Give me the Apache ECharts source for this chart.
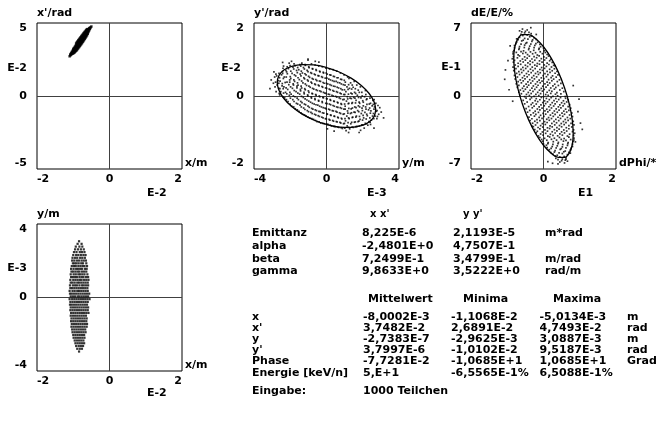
<!DOCTYPE html>
<html><head><meta charset="utf-8">
<script src="https://cdn.jsdelivr.net/npm/echarts@6/dist/echarts.min.js"></script>
<style>html,body{margin:0;padding:0;background:#fff}#c{width:666px;height:421px}</style>
</head><body><div id="c"></div>
<script>
// ---------- data ----------
// panel 1: x (E-2 m) vs x' (E-2 rad): columns [x, [x' values]]
const xxCols = [
[-1.10,[2.72]],[-1.08,[2.78,2.85]],[-1.06,[2.83,2.92]],[-1.04,[2.88,2.95,3.02]],
[-1.02,[2.90,3.00,3.10]],[-1.00,[2.92,3.02,3.12,3.22]],[-0.98,[2.96,3.06,3.16,3.28]],
[-0.96,[3.00,3.12,3.24,3.36]],[-0.94,[3.05,3.18,3.30,3.43]],[-0.92,[3.10,3.24,3.36,3.50,3.60]],
[-0.90,[3.15,3.30,3.42,3.56,3.68]],[-0.88,[3.22,3.36,3.48,3.62,3.75]],[-0.86,[3.28,3.42,3.55,3.68,3.82]],
[-0.84,[3.35,3.48,3.61,3.74,3.88]],[-0.82,[3.42,3.55,3.68,3.81,3.95]],[-0.80,[3.48,3.62,3.75,3.88,4.02]],
[-0.78,[3.55,3.68,3.82,3.95,4.08]],[-0.76,[3.62,3.76,3.89,4.02,4.15]],[-0.74,[3.70,3.83,3.95,4.08,4.21]],
[-0.72,[3.76,3.90,4.02,4.15,4.28]],[-0.70,[3.84,3.97,4.09,4.22,4.34]],[-0.68,[3.92,4.05,4.16,4.28,4.40]],
[-0.66,[4.00,4.12,4.23,4.35,4.46]],[-0.64,[4.08,4.20,4.30,4.42,4.52]],[-0.62,[4.16,4.27,4.37,4.48,4.58]],
[-0.60,[4.26,4.36,4.45,4.55]],[-0.58,[4.38,4.48,4.58]],[-0.56,[4.50,4.58,4.64]],
[-0.54,[4.60,4.68]],[-0.52,[4.70]],[-0.50,[4.76]]
];

// panel 2: y (E-3 m) vs y' (E-2 rad)
const yyPoints = [
[-2.93,0.35],[-2.86,0.52],[-3.05,0.44],
[-2.72,0.30],[-2.66,0.42],[-2.75,0.55],[-2.64,0.21],[-2.78,0.12],
[-2.52,0.12],[-2.45,0.28],[-2.56,0.41],[-2.48,0.58],[-2.43,0.67],[-2.58,0.03],
[-2.31,-0.05],[-2.26,0.10],[-2.35,0.25],[-2.28,0.37],[-2.33,0.52],[-2.24,0.70],[-2.37,0.82],
[-2.12,-0.15],[-2.05,0.02],[-2.14,0.18],[-2.08,0.31],[-2.03,0.44],[-2.16,0.61],[-2.10,0.75],[-2.06,0.90],
[-1.92,-0.28],[-1.86,-0.10],[-1.95,0.05],[-1.88,0.21],[-1.84,0.33],[-1.97,0.48],[-1.90,0.62],[-1.85,0.79],[-1.93,0.95],
[-1.72,-0.35],[-1.66,-0.20],[-1.74,-0.02],[-1.68,0.12],[-1.63,0.27],[-1.76,0.40],[-1.70,0.55],[-1.65,0.70],[-1.73,0.83],
[-1.52,-0.42],[-1.46,-0.25],[-1.55,-0.10],[-1.48,0.05],[-1.44,0.18],[-1.57,0.30],[-1.50,0.45],[-1.45,0.60],[-1.53,0.72],[-1.47,0.86],
[-1.32,-0.50],[-1.26,-0.33],[-1.35,-0.18],[-1.28,-0.04],[-1.24,0.10],[-1.37,0.22],[-1.30,0.36],[-1.25,0.50],[-1.33,0.63],[-1.27,0.78],[-1.36,0.90],
[-1.12,-0.55],[-1.06,-0.40],[-1.15,-0.24],[-1.08,-0.11],[-1.04,0.03],[-1.17,0.17],[-1.10,0.29],[-1.05,0.44],[-1.13,0.58],[-1.07,0.70],[-1.16,0.84],[-1.02,0.98],
[-0.92,-0.60],[-0.86,-0.45],[-0.95,-0.31],[-0.88,-0.17],[-0.84,-0.03],[-0.97,0.10],[-0.90,0.24],[-0.85,0.38],[-0.93,0.51],[-0.87,0.64],[-0.96,0.78],[-0.83,0.88],
[-0.72,-0.64],[-0.66,-0.50],[-0.75,-0.36],[-0.68,-0.22],[-0.64,-0.07],[-0.77,0.06],[-0.70,0.19],[-0.65,0.33],[-0.73,0.46],[-0.67,0.60],[-0.76,0.74],[-0.63,0.85],
[-0.52,-0.70],[-0.46,-0.54],[-0.55,-0.40],[-0.48,-0.25],[-0.44,-0.12],[-0.57,0.02],[-0.50,0.15],[-0.45,0.30],[-0.53,0.42],[-0.47,0.56],[-0.56,0.70],[-0.43,0.82],
[-0.32,-0.74],[-0.26,-0.58],[-0.35,-0.43],[-0.28,-0.30],[-0.24,-0.15],[-0.37,-0.02],[-0.30,0.12],[-0.25,0.26],[-0.33,0.40],[-0.27,0.53],[-0.36,0.66],[-0.23,0.80],
[-0.12,-0.76],[-0.06,-0.62],[-0.15,-0.47],[-0.08,-0.33],[-0.04,-0.20],[-0.17,-0.05],[-0.10,0.08],[-0.05,0.22],[-0.13,0.35],[-0.07,0.49],[-0.16,0.63],[-0.03,0.76],
[0.08,-0.78],[0.14,-0.64],[0.05,-0.50],[0.12,-0.36],[0.16,-0.22],[0.03,-0.08],[0.10,0.05],[0.15,0.19],[0.07,0.33],[0.13,0.46],[0.04,0.60],[0.17,0.74],
[0.28,-0.82],[0.34,-0.67],[0.25,-0.53],[0.32,-0.40],[0.36,-0.26],[0.23,-0.12],[0.30,0.02],[0.35,0.15],[0.27,0.29],[0.33,0.42],[0.24,0.57],[0.37,0.72],
[0.48,-0.84],[0.54,-0.70],[0.45,-0.56],[0.52,-0.42],[0.56,-0.30],[0.43,-0.15],[0.50,-0.01],[0.55,0.12],[0.47,0.26],[0.53,0.40],[0.44,0.53],[0.57,0.68],
[0.68,-0.86],[0.74,-0.72],[0.65,-0.60],[0.72,-0.46],[0.76,-0.32],[0.63,-0.19],[0.70,-0.05],[0.75,0.08],[0.67,0.22],[0.73,0.36],[0.64,0.50],[0.77,0.63],
[0.88,-0.89],[0.94,-0.76],[0.85,-0.63],[0.92,-0.50],[0.96,-0.36],[0.83,-0.23],[0.90,-0.10],[0.95,0.04],[0.87,0.17],[0.93,0.31],[0.84,0.45],[0.97,0.58],
[1.08,-0.95],[1.14,-0.82],[1.05,-0.68],[1.12,-0.55],[1.16,-0.41],[1.03,-0.28],[1.10,-0.14],[1.15,-0.02],[1.07,0.12],[1.13,0.25],[1.04,0.38],[1.17,0.52],
[1.28,-0.90],[1.34,-0.76],[1.25,-0.62],[1.32,-0.48],[1.36,-0.35],[1.23,-0.20],[1.30,-0.06],[1.35,0.08],[1.27,0.21],[1.33,0.36],[1.24,0.48],
[1.48,-0.86],[1.54,-0.72],[1.45,-0.58],[1.52,-0.44],[1.56,-0.30],[1.43,-0.18],[1.50,-0.04],[1.55,0.10],[1.47,0.24],[1.53,0.40],
[1.68,-0.83],[1.74,-0.70],[1.65,-0.55],[1.72,-0.40],[1.76,-0.27],[1.63,-0.12],[1.70,0.02],[1.75,0.16],[1.67,0.30],
[1.88,-0.94],[1.94,-0.79],[1.85,-0.64],[1.92,-0.48],[1.96,-0.33],[1.83,-0.20],[1.90,-0.05],[1.95,0.10],[1.87,0.25],
[2.08,-0.88],[2.14,-0.75],[2.05,-0.60],[2.12,-0.45],[2.16,-0.30],[2.03,-0.17],[2.10,-0.02],[2.15,0.15],
[2.28,-0.80],[2.34,-0.70],[2.25,-0.54],[2.32,-0.38],[2.36,-0.22],[2.23,-0.08],
[2.48,-0.66],[2.54,-0.55],[2.45,-0.41],[2.52,-0.27],[2.56,-0.12],[2.43,-0.78],
[2.68,-0.55],[2.74,-0.42],[2.65,-0.30],[2.72,-0.20],[2.78,-0.62],
[2.88,-0.50],[2.94,-0.32],[3.02,-0.44],
[3.15,-0.60],[-3.12,0.20],[1.22,-1.00],[-1.02,1.01],[2.62,-0.88],[-2.42,0.92],[0.42,-0.96],[-0.42,0.93],
[0.05,-0.90],[-0.62,0.95],[1.80,-1.00],[-2.90,0.66],
[-2.81,0.38],[-2.84,0.25],[-2.79,0.60],
[-2.61,0.07],[-2.63,0.35],[-2.59,0.50],[-2.57,0.20],[-2.62,0.62],
[-2.41,-0.02],[-2.39,0.20],[-2.44,0.34],[-2.38,0.48],[-2.42,0.62],[-2.40,0.76],[-2.37,0.08],
[-2.21,-0.10],[-2.19,0.06],[-2.23,0.22],[-2.18,0.38],[-2.22,0.52],[-2.20,0.66],[-2.17,0.80],
[-2.01,-0.22],[-1.99,-0.06],[-2.02,0.10],[-1.98,0.25],[-2.03,0.38],[-2.00,0.53],[-1.97,0.68],[-2.01,0.83],
[-1.81,-0.30],[-1.79,-0.15],[-1.83,0.00],[-1.78,0.15],[-1.82,0.30],[-1.80,0.44],[-1.77,0.58],[-1.81,0.74],[-1.79,0.88],
[-1.61,-0.38],[-1.59,-0.22],[-1.62,-0.06],[-1.58,0.08],[-1.63,0.22],[-1.60,0.36],[-1.57,0.50],[-1.61,0.64],[-1.59,0.78],
[-1.41,-0.46],[-1.39,-0.30],[-1.42,-0.15],[-1.38,-0.01],[-1.43,0.14],[-1.40,0.27],[-1.37,0.41],[-1.41,0.55],[-1.39,0.68],[-1.42,0.82],
[-1.21,-0.52],[-1.19,-0.37],[-1.22,-0.22],[-1.18,-0.08],[-1.23,0.06],[-1.20,0.20],[-1.17,0.33],[-1.21,0.47],[-1.19,0.61],[-1.22,0.74],[-1.18,0.86],
[-1.01,-0.58],[-0.99,-0.43],[-1.02,-0.28],[-0.98,-0.14],[-1.03,0.00],[-1.00,0.14],[-0.97,0.27],[-1.01,0.41],[-0.99,0.54],[-1.02,0.67],[-0.98,0.80],
[-0.81,-0.62],[-0.79,-0.48],[-0.82,-0.34],[-0.78,-0.20],[-0.83,-0.06],[-0.80,0.07],[-0.77,0.21],[-0.81,0.35],[-0.79,0.48],[-0.82,0.62],[-0.78,0.75],
[-0.61,-0.67],[-0.59,-0.52],[-0.62,-0.38],[-0.58,-0.24],[-0.63,-0.10],[-0.60,0.04],[-0.57,0.17],[-0.61,0.31],[-0.59,0.45],[-0.62,0.58],[-0.58,0.72],
[-0.41,-0.71],[-0.39,-0.56],[-0.42,-0.42],[-0.38,-0.28],[-0.43,-0.14],[-0.40,0.00],[-0.37,0.14],[-0.41,0.28],[-0.39,0.41],[-0.42,0.55],[-0.38,0.68],
[-0.21,-0.75],[-0.19,-0.60],[-0.22,-0.46],[-0.18,-0.32],[-0.23,-0.18],[-0.20,-0.04],[-0.17,0.10],[-0.21,0.24],[-0.19,0.37],[-0.22,0.51],[-0.18,0.65],
[0.01,-0.77],[-0.01,-0.63],[0.02,-0.49],[-0.02,-0.35],[0.03,-0.21],[0.00,-0.07],[-0.03,0.07],[0.01,0.21],[-0.01,0.35],[0.02,0.49],[-0.02,0.63],
[0.21,-0.80],[0.19,-0.66],[0.22,-0.52],[0.18,-0.38],[0.23,-0.24],[0.20,-0.10],[0.17,0.04],[0.21,0.17],[0.19,0.31],[0.22,0.44],[0.18,0.58],
[0.41,-0.83],[0.39,-0.69],[0.42,-0.55],[0.38,-0.41],[0.43,-0.28],[0.40,-0.14],[0.37,0.00],[0.41,0.13],[0.39,0.27],[0.42,0.40],[0.38,0.54],
[0.61,-0.85],[0.59,-0.71],[0.62,-0.58],[0.58,-0.44],[0.63,-0.31],[0.60,-0.17],[0.57,-0.03],[0.61,0.10],[0.59,0.24],[0.62,0.37],[0.58,0.50],
[0.81,-0.87],[0.79,-0.74],[0.82,-0.61],[0.78,-0.48],[0.83,-0.34],[0.80,-0.21],[0.77,-0.07],[0.81,0.06],[0.79,0.20],[0.82,0.33],[0.78,0.46],
[1.01,-0.88],[0.99,-0.75],[1.02,-0.62],[0.98,-0.49],[1.03,-0.36],[1.00,-0.22],[0.97,-0.09],[1.01,0.04],[0.99,0.17],[1.02,0.30],[0.98,0.43],
[1.21,-0.86],[1.19,-0.73],[1.22,-0.60],[1.18,-0.47],[1.23,-0.34],[1.20,-0.21],[1.17,-0.08],[1.21,0.05],[1.19,0.18],[1.22,0.31],
[1.41,-0.85],[1.39,-0.72],[1.42,-0.59],[1.38,-0.46],[1.43,-0.33],[1.40,-0.20],[1.37,-0.07],[1.41,0.06],[1.39,0.19],[1.42,0.30],
[1.61,-0.84],[1.59,-0.71],[1.62,-0.58],[1.58,-0.45],[1.63,-0.32],[1.60,-0.19],[1.57,-0.06],[1.61,0.07],[1.59,0.20],
[1.81,-0.82],[1.79,-0.69],[1.82,-0.56],[1.78,-0.43],[1.83,-0.30],[1.80,-0.17],[1.77,-0.04],[1.81,0.10],
[2.01,-0.79],[1.99,-0.66],[2.02,-0.53],[1.98,-0.40],[2.03,-0.27],[2.00,-0.13],[1.97,0.00],
[2.21,-0.76],[2.19,-0.63],[2.22,-0.50],[2.18,-0.36],[2.23,-0.23],[2.20,-0.10],[2.17,0.04],
[2.41,-0.72],[2.39,-0.60],[2.42,-0.47],[2.38,-0.33],[2.43,-0.20],[2.40,-0.06],
[2.61,-0.62],[2.59,-0.48],[2.62,-0.36],[2.58,-0.23],[2.63,-0.10],
[2.81,-0.56],[2.79,-0.40],[2.84,-0.26]
];
const yyEllipse = [
[2.716,-0.371],[2.623,-0.560],[2.352,-0.711],[1.920,-0.814],[1.358,-0.861],[0.703,-0.850],[0,-0.780],
[-0.703,-0.658],[-1.358,-0.490],[-1.920,-0.290],[-2.352,-0.069],[-2.623,0.156],[-2.716,0.371],
[-2.623,0.560],[-2.352,0.711],[-1.920,0.814],[-1.358,0.861],[-0.703,0.850],[0,0.780],
[0.703,0.658],[1.358,0.490],[1.920,0.290],[2.352,0.069],[2.623,-0.156],[2.716,-0.371]
];

// panel 3: dPhi (E1 deg) vs dE/E (E-1 %)
const phPoints = [
[-0.58,6.42],[-0.45,6.33],[-0.66,6.25],
[-0.52,6.05],[-0.62,5.92],[-0.40,6.10],[-0.34,5.98],
[-0.66,5.62],[-0.52,5.52],[-0.38,5.68],[-0.26,5.58],[-0.74,5.48],
[-0.74,5.18],[-0.60,5.28],[-0.46,5.12],[-0.32,5.24],[-0.16,5.15],
[-0.80,4.84],[-0.66,4.74],[-0.52,4.88],[-0.38,4.78],[-0.24,4.85],[-0.08,4.72],
[-0.82,4.36],[-0.68,4.46],[-0.55,4.33],[-0.41,4.45],[-0.27,4.38],[-0.13,4.47],[0.02,4.34],
[-0.84,4.04],[-0.70,3.95],[-0.57,4.08],[-0.44,3.97],[-0.30,4.05],[-0.17,3.93],[-0.03,4.06],[0.10,3.98],
[-0.86,3.57],[-0.72,3.66],[-0.58,3.54],[-0.45,3.63],[-0.32,3.55],[-0.19,3.67],[-0.06,3.58],[0.08,3.64],[0.20,3.52],
[-0.83,3.24],[-0.70,3.14],[-0.56,3.26],[-0.43,3.17],[-0.30,3.23],[-0.17,3.12],[-0.04,3.25],[0.10,3.16],[0.24,3.22],
[-0.84,2.76],[-0.70,2.85],[-0.57,2.74],[-0.44,2.83],[-0.31,2.77],[-0.18,2.86],[-0.05,2.73],[0.08,2.84],[0.22,2.78],[0.32,2.88],
[-0.82,2.43],[-0.68,2.34],[-0.55,2.45],[-0.42,2.36],[-0.29,2.44],[-0.16,2.33],[-0.03,2.46],[0.10,2.37],[0.24,2.42],[0.37,2.35],
[-0.80,1.97],[-0.66,2.06],[-0.53,1.94],[-0.40,2.04],[-0.27,1.95],[-0.14,2.07],[-0.01,1.96],[0.12,2.05],[0.25,1.93],[0.40,2.02],
[-0.78,1.63],[-0.64,1.54],[-0.51,1.65],[-0.38,1.56],[-0.25,1.64],[-0.12,1.53],[0.01,1.66],[0.14,1.57],[0.28,1.62],[0.44,1.55],
[-0.75,1.17],[-0.61,1.26],[-0.48,1.14],[-0.35,1.24],[-0.22,1.15],[-0.09,1.27],[0.04,1.16],[0.17,1.25],[0.31,1.13],[0.48,1.22],
[-0.72,0.83],[-0.58,0.74],[-0.45,0.85],[-0.32,0.76],[-0.19,0.84],[-0.06,0.73],[0.07,0.86],[0.20,0.77],[0.34,0.82],[0.52,0.75],
[-0.68,0.37],[-0.55,0.46],[-0.42,0.34],[-0.29,0.44],[-0.16,0.35],[-0.03,0.47],[0.10,0.36],[0.23,0.45],[0.37,0.33],[0.56,0.42],
[-0.65,0.03],[-0.52,-0.06],[-0.39,0.05],[-0.26,-0.04],[-0.13,0.04],[0.00,-0.07],[0.13,0.06],[0.26,-0.03],[0.39,0.02],[0.60,-0.05],
[0.68,-0.37],[0.55,-0.46],[0.42,-0.34],[0.29,-0.44],[0.16,-0.35],[0.03,-0.47],[-0.10,-0.36],[-0.23,-0.45],[-0.37,-0.33],[-0.56,-0.42],
[0.72,-0.83],[0.58,-0.74],[0.45,-0.85],[0.32,-0.76],[0.19,-0.84],[0.06,-0.73],[-0.07,-0.86],[-0.20,-0.77],[-0.34,-0.82],[-0.52,-0.75],
[0.75,-1.17],[0.61,-1.26],[0.48,-1.14],[0.35,-1.24],[0.22,-1.15],[0.09,-1.27],[-0.04,-1.16],[-0.17,-1.25],[-0.31,-1.13],[-0.48,-1.22],
[0.78,-1.63],[0.64,-1.54],[0.51,-1.65],[0.38,-1.56],[0.25,-1.64],[0.12,-1.53],[-0.01,-1.66],[-0.14,-1.57],[-0.28,-1.62],[-0.44,-1.55],
[0.80,-1.97],[0.66,-2.06],[0.53,-1.94],[0.40,-2.04],[0.27,-1.95],[0.14,-2.07],[0.01,-1.96],[-0.12,-2.05],[-0.25,-1.93],[-0.40,-2.02],
[0.82,-2.43],[0.68,-2.34],[0.55,-2.45],[0.42,-2.36],[0.29,-2.44],[0.16,-2.33],[0.03,-2.46],[-0.10,-2.37],[-0.24,-2.42],[-0.37,-2.35],
[0.84,-2.76],[0.70,-2.85],[0.57,-2.74],[0.44,-2.83],[0.31,-2.77],[0.18,-2.86],[0.05,-2.73],[-0.08,-2.84],[-0.22,-2.78],[-0.32,-2.88],
[0.83,-3.24],[0.70,-3.14],[0.56,-3.26],[0.43,-3.17],[0.30,-3.23],[0.17,-3.12],[0.04,-3.25],[-0.10,-3.16],[-0.24,-3.22],
[0.86,-3.57],[0.72,-3.66],[0.58,-3.54],[0.45,-3.63],[0.32,-3.55],[0.19,-3.67],[0.06,-3.58],[-0.08,-3.64],[-0.20,-3.52],
[0.84,-4.04],[0.70,-3.95],[0.57,-4.08],[0.44,-3.97],[0.30,-4.05],[0.17,-3.93],[0.03,-4.06],[-0.10,-3.98],
[0.82,-4.36],[0.68,-4.46],[0.55,-4.33],[0.41,-4.45],[0.27,-4.38],[0.13,-4.47],[-0.02,-4.34],
[0.80,-4.84],[0.66,-4.74],[0.52,-4.88],[0.38,-4.78],[0.24,-4.85],[0.08,-4.72],
[0.74,-5.18],[0.60,-5.28],[0.46,-5.12],[0.32,-5.24],[0.16,-5.15],
[0.66,-5.62],[0.52,-5.52],[0.38,-5.68],[0.26,-5.58],[0.74,-5.48],
[0.52,-6.05],[0.62,-5.92],[0.40,-6.10],[0.34,-5.98],
[0.58,-6.42],[0.45,-6.33],[0.66,-6.25],
[-1.05,2.50],[-0.98,3.40],[-1.07,1.60],[1.02,-2.60],[1.07,-3.20],[0.95,-1.50],[-0.35,6.55],[0.40,-6.50],
[0.12,-6.30],[0.25,-6.45],[-0.92,4.80],[0.88,-4.40],[-0.20,5.90],[0.62,-6.05],[-0.85,-0.50],[0.82,1.00],
[-0.95,0.60],[0.98,-0.30],
[-0.50,6.20],[-0.60,6.15],
[-0.57,5.80],[-0.45,5.85],[-0.33,5.75],
[-0.70,5.40],[-0.56,5.35],[-0.43,5.45],[-0.30,5.38],[-0.20,5.42],
[-0.76,5.02],[-0.62,4.97],[-0.49,5.05],[-0.35,4.98],[-0.21,5.03],[-0.10,4.95],
[-0.80,4.62],[-0.67,4.57],[-0.53,4.65],[-0.40,4.58],[-0.26,4.63],[-0.12,4.56],[0.00,4.61],
[-0.84,4.22],[-0.75,4.18],[-0.62,4.25],[-0.49,4.16],[-0.36,4.23],[-0.22,4.15],[-0.09,4.24],[0.05,4.17],
[-0.83,3.78],[-0.66,3.84],[-0.52,3.75],[-0.39,3.82],[-0.26,3.77],[-0.12,3.85],[0.01,3.76],[0.14,3.83],
[-0.80,3.42],[-0.64,3.36],[-0.50,3.44],[-0.37,3.35],[-0.24,3.43],[-0.11,3.37],[0.03,3.45],[0.17,3.38],
[-0.78,2.97],[-0.63,3.04],[-0.50,2.95],[-0.37,3.03],[-0.24,2.96],[-0.11,3.05],[0.02,2.98],[0.15,3.02],[0.28,2.94],
[-0.76,2.62],[-0.62,2.55],[-0.49,2.64],[-0.36,2.57],[-0.23,2.63],[-0.10,2.54],[0.03,2.65],[0.17,2.56],[0.30,2.61],
[-0.74,2.17],[-0.60,2.25],[-0.47,2.15],[-0.34,2.24],[-0.22,2.16],[-0.09,2.23],[0.04,2.14],[0.18,2.26],[0.32,2.18],
[-0.72,1.82],[-0.58,1.75],[-0.45,1.84],[-0.32,1.76],[-0.19,1.83],[-0.06,1.74],[0.08,1.85],[0.21,1.77],[0.35,1.81],
[-0.70,1.37],[-0.56,1.45],[-0.43,1.35],[-0.30,1.44],[-0.17,1.36],[-0.04,1.43],[0.10,1.34],[0.23,1.46],[0.38,1.38],
[-0.68,1.02],[-0.54,0.95],[-0.41,1.04],[-0.28,0.96],[-0.15,1.03],[-0.02,0.94],[0.12,1.05],[0.26,0.97],[0.41,1.01],
[-0.64,0.57],[-0.50,0.65],[-0.37,0.55],[-0.24,0.64],[-0.11,0.56],[0.02,0.63],[0.16,0.54],[0.30,0.66],[0.45,0.58],
[-0.61,0.22],[-0.47,0.15],[-0.34,0.24],[-0.21,0.16],[-0.08,0.23],[0.06,0.14],[0.20,0.25],[0.33,0.17],[0.48,0.21],
[0.61,-0.22],[0.47,-0.15],[0.34,-0.24],[0.21,-0.16],[0.08,-0.23],[-0.06,-0.14],[-0.20,-0.25],[-0.33,-0.17],[-0.48,-0.21],
[0.64,-0.57],[0.50,-0.65],[0.37,-0.55],[0.24,-0.64],[0.11,-0.56],[-0.02,-0.63],[-0.16,-0.54],[-0.30,-0.66],[-0.45,-0.58],
[0.68,-1.02],[0.54,-0.95],[0.41,-1.04],[0.28,-0.96],[0.15,-1.03],[0.02,-0.94],[-0.12,-1.05],[-0.26,-0.97],[-0.41,-1.01],
[0.70,-1.37],[0.56,-1.45],[0.43,-1.35],[0.30,-1.44],[0.17,-1.36],[0.04,-1.43],[-0.10,-1.34],[-0.23,-1.46],[-0.38,-1.38],
[0.72,-1.82],[0.58,-1.75],[0.45,-1.84],[0.32,-1.76],[0.19,-1.83],[0.06,-1.74],[-0.08,-1.85],[-0.21,-1.77],[-0.35,-1.81],
[0.74,-2.17],[0.60,-2.25],[0.47,-2.15],[0.34,-2.24],[0.22,-2.16],[0.09,-2.23],[-0.04,-2.14],[-0.18,-2.26],[-0.32,-2.18],
[0.76,-2.62],[0.62,-2.55],[0.49,-2.64],[0.36,-2.57],[0.23,-2.63],[0.10,-2.54],[-0.03,-2.65],[-0.17,-2.56],[-0.30,-2.61],
[0.78,-2.97],[0.63,-3.04],[0.50,-2.95],[0.37,-3.03],[0.24,-2.96],[0.11,-3.05],[-0.02,-2.98],[-0.15,-3.02],[-0.28,-2.94],
[0.80,-3.42],[0.64,-3.36],[0.50,-3.44],[0.37,-3.35],[0.24,-3.43],[0.11,-3.37],[-0.03,-3.45],[-0.17,-3.38],
[0.83,-3.78],[0.66,-3.84],[0.52,-3.75],[0.39,-3.82],[0.26,-3.77],[0.12,-3.85],[-0.01,-3.76],[-0.14,-3.83],
[0.84,-4.22],[0.75,-4.18],[0.62,-4.25],[0.49,-4.16],[0.36,-4.23],[0.22,-4.15],[0.09,-4.24],[-0.05,-4.17],
[0.80,-4.62],[0.67,-4.57],[0.53,-4.65],[0.40,-4.58],[0.26,-4.63],[0.12,-4.56],[0.00,-4.61],
[0.76,-5.02],[0.62,-4.97],[0.49,-5.05],[0.35,-4.98],[0.21,-5.03],[0.10,-4.95],
[0.70,-5.40],[0.56,-5.35],[0.43,-5.45],[0.30,-5.38],[0.20,-5.42],
[0.57,-5.80],[0.45,-5.85],[0.33,-5.75],
[0.50,-6.20],[0.60,-6.15]
];
const phEllipse = [
[0.82,-3.60],[0.792,-2.255],[0.710,-0.758],[0.580,0.792],[0.41,2.288],[0.212,3.627],[0,4.72],
[-0.212,5.491],[-0.41,5.888],[-0.580,5.884],[-0.710,5.478],[-0.792,4.699],[-0.82,3.60],
[-0.792,2.255],[-0.710,0.758],[-0.580,-0.792],[-0.41,-2.288],[-0.212,-3.627],[0,-4.72],
[0.212,-5.491],[0.41,-5.888],[0.580,-5.884],[0.710,-5.478],[0.792,-4.699],[0.82,-3.60]
];

// panel 4: x (E-2 m) vs y (E-3 m): rows [y, [x values]]
const xyRows = [
[3.06,[-0.84]],[2.92,[-0.88,-0.77]],[2.77,[-0.93,-0.83,-0.75]],[2.62,[-0.95,-0.87,-0.79,-0.71]],
[2.47,[-0.98,-0.91,-0.82,-0.76,-0.69]],[2.31,[-1.00,-0.92,-0.86,-0.79,-0.72,-0.66]],
[2.16,[-1.02,-0.95,-0.89,-0.81,-0.75,-0.68]],[2.01,[-1.03,-0.97,-0.90,-0.84,-0.77,-0.71,-0.65]],
[1.86,[-1.01,-0.96,-0.91,-0.85,-0.78,-0.73,-0.64]],[1.71,[-1.04,-0.98,-0.93,-0.86,-0.80,-0.74,-0.69,-0.62]],
[1.56,[-1.06,-0.99,-0.92,-0.87,-0.81,-0.76,-0.68,-0.63]],[1.41,[-1.05,-1.00,-0.94,-0.88,-0.83,-0.76,-0.70,-0.64]],
[1.26,[-1.07,-0.99,-0.93,-0.86,-0.81,-0.75,-0.69,-0.61]],[1.11,[-1.06,-1.01,-0.95,-0.90,-0.83,-0.77,-0.72,-0.65,-0.59]],
[0.96,[-1.08,-1.00,-0.94,-0.88,-0.82,-0.77,-0.70,-0.64,-0.58]],[0.81,[-1.07,-1.02,-0.96,-0.89,-0.84,-0.78,-0.72,-0.66,-0.60]],
[0.66,[-1.09,-1.01,-0.95,-0.90,-0.83,-0.76,-0.71,-0.65,-0.59]],[0.51,[-1.08,-1.03,-0.97,-0.91,-0.85,-0.79,-0.73,-0.67,-0.61]],
[0.36,[-1.10,-1.02,-0.96,-0.89,-0.84,-0.78,-0.72,-0.66,-0.60]],[0.21,[-1.09,-1.04,-0.98,-0.92,-0.86,-0.80,-0.74,-0.68,-0.62,-0.56]],
[0.06,[-1.07,-1.01,-0.95,-0.88,-0.83,-0.77,-0.71,-0.65,-0.59]],[-0.09,[-1.10,-1.03,-0.97,-0.91,-0.85,-0.79,-0.73,-0.67,-0.61,-0.55]],
[-0.24,[-1.08,-1.02,-0.96,-0.90,-0.84,-0.78,-0.72,-0.66,-0.60]],[-0.39,[-1.09,-1.04,-0.98,-0.92,-0.86,-0.80,-0.74,-0.68,-0.62]],
[-0.54,[-1.07,-1.01,-0.95,-0.89,-0.83,-0.77,-0.71,-0.65,-0.59]],[-0.69,[-1.08,-1.02,-0.96,-0.90,-0.84,-0.78,-0.72,-0.66,-0.60]],
[-0.84,[-1.06,-1.00,-0.94,-0.88,-0.82,-0.76,-0.70,-0.64,-0.58]],[-0.99,[-1.07,-1.01,-0.95,-0.89,-0.83,-0.77,-0.71,-0.65]],
[-1.14,[-1.05,-0.99,-0.93,-0.87,-0.81,-0.75,-0.69,-0.63]],[-1.29,[-1.06,-1.00,-0.94,-0.88,-0.82,-0.76,-0.70,-0.64]],
[-1.44,[-1.04,-0.98,-0.92,-0.86,-0.80,-0.74,-0.68,-0.62]],[-1.59,[-1.05,-0.99,-0.93,-0.87,-0.81,-0.75,-0.69,-0.63]],
[-1.74,[-1.03,-0.97,-0.91,-0.85,-0.79,-0.73,-0.67]],[-1.89,[-1.02,-0.96,-0.90,-0.84,-0.78,-0.72,-0.66]],
[-2.04,[-1.00,-0.94,-0.88,-0.82,-0.76,-0.70]],[-2.19,[-0.99,-0.93,-0.87,-0.81,-0.75,-0.69]],
[-2.34,[-0.96,-0.90,-0.84,-0.78,-0.72]],[-2.49,[-0.94,-0.88,-0.82,-0.76,-0.70]],
[-2.64,[-0.92,-0.85,-0.79,-0.73]],[-2.79,[-0.89,-0.82,-0.76]],[-2.94,[-0.84]]
];

// axes
const xRanges = [[-2,2],[-4,4],[-2,2],[-2,2]];
const yRanges = [[-5,5],[-2,2],[-7,7],[-4,4]];
const xNames = ['x/m','y/m','dPhi/*','x/m'];
const yNames = ["x'/rad","y'/rad",'dE/E/%','y/m'];
const xExps = ['E-2','E-3','E1','E-2'];
const yExps = ['E-2','E-2','E-1','E-3'];

// table
const twissHeaders = ["x x'","y y'"];
const twissLabels = ['Emittanz','alpha','beta','gamma'];
const twissXX = ['8,225E-6','-2,4801E+0','7,2499E-1','9,8633E+0'];
const twissYY = ['2,1193E-5','4,7507E-1','3,4799E-1','3,5222E+0'];
const twissUnits = ['m*rad','','m/rad','rad/m'];
const statHeaders = ['Mittelwert','Minima','Maxima'];
const statLabels = ['x',"x'",'y',"y'",'Phase','Energie [keV/n]'];
const statMean = ['-8,0002E-3','3,7482E-2','-2,7383E-7','3,7997E-6','-7,7281E-2','5,E+1'];
const statMin = ['-1,1068E-2','2,6891E-2','-2,9625E-3','-1,0102E-2','-1,0685E+1','-6,5565E-1%'];
const statMax = ['-5,0134E-3','4,7493E-2','3,0887E-3','9,5187E-3','1,0685E+1','6,5088E-1%'];
const statUnits = ['m','rad','m','rad','Grad',''];
const inputLabel = 'Eingabe:';
const inputValue = '1000 Teilchen';

// ---------- build ----------
const FONT = 'DejaVu Sans';
const FONT_CSS = 'bold 11px "DejaVu Sans"';
const grids = [
  {left:37, top:23, width:145, height:146},
  {left:254, top:23, width:145, height:146},
  {left:471, top:23, width:145, height:146},
  {left:37, top:224, width:145, height:147}
];
const xAxes = [], yAxes = [];
grids.forEach((g, i) => {
  Object.assign(g, {show:true, borderColor:'#000', borderWidth:1, backgroundColor:'#fff', containLabel:false, outerBoundsMode:'none'});
  const common = {
    gridIndex:i, type:'value',
    axisLine:{show:false, onZero:false}, axisTick:{show:false},
    splitLine:{show:true, showMinLine:false, showMaxLine:false, lineStyle:{color:'#404040', width:1}},
    nameMoveOverlap:false
  };
  xAxes.push(Object.assign({}, common, {
    position:'bottom',
    min:xRanges[i][0], max:xRanges[i][1], interval:xRanges[i][1],
    axisLabel:{color:'#000', fontFamily:FONT, fontWeight:'bold', fontSize:11, margin:5, alignMinLabel:'left', alignMaxLabel:'right'},
    name:xNames[i], nameLocation:'end', nameGap:3,
    nameTextStyle:{color:'#000', fontFamily:FONT, fontWeight:'bold', fontSize:11, align:'left', verticalAlign:'bottom'}
  }));
  yAxes.push(Object.assign({}, common, {
    position:'left',
    min:yRanges[i][0], max:yRanges[i][1], interval:yRanges[i][1],
    axisLabel:{color:'#000', fontFamily:FONT, fontWeight:'bold', fontSize:11, margin:10, verticalAlignMinLabel:'bottom', verticalAlignMaxLabel:'top'},
    name:yNames[i], nameLocation:'end', nameGap:4,
    nameTextStyle:{color:'#000', fontFamily:FONT, fontWeight:'bold', fontSize:11, align:'left'}
  }));
});

const xxData = [];
xxCols.forEach(([x, ys]) => ys.forEach(y => xxData.push([x, y])));
const xyData = [];
xyRows.forEach(([y, xs]) => xs.forEach(x => xyData.push([x, y])));

function scatter(idx, data, size) {
  return {type:'scatter', xAxisIndex:idx, yAxisIndex:idx, data, symbol:'rect', symbolSize:size,
    itemStyle:{color:'#000'}, silent:true, z:2, large:false};
}
function ellipse(idx, data) {
  return {type:'line', xAxisIndex:idx, yAxisIndex:idx, data, showSymbol:false, symbol:'none', smooth:0.4,
    lineStyle:{color:'#000', width:1.3}, silent:true, z:3};
}

const G = [];
function txt(s, x, y, extra) {
  G.push({type:'text', x, y, silent:true,
    style:Object.assign({text:s, fill:'#000', font:FONT_CSS, align:'left', verticalAlign:'middle'}, extra || {})});
}
// exponent labels
const xExpPos = [[147,193],[367,193],[578,193],[147,393]];
const yExpPos = [[27,68],[241,68],[461,67],[27,268]];
xExps.forEach((s,i) => txt(s, xExpPos[i][0], xExpPos[i][1]));
yExps.forEach((s,i) => txt(s, yExpPos[i][0], yExpPos[i][1], {align:'right'}));

// table
twissHeaders.forEach((h,i) => txt(h, [370,463][i], 214, {font:'bold 10px "DejaVu Sans"'}));
const upperY = [233.3, 246, 258.7, 271];
twissLabels.forEach((l,i) => {
  txt(l, 252, upperY[i]); txt(twissXX[i], 362, upperY[i]);
  txt(twissYY[i], 453, upperY[i]); txt(twissUnits[i], 545, upperY[i]);
});
statHeaders.forEach((h,i) => txt(h, [368,463,553][i], 299.5));
const lowerY = [316.7, 327.7, 339.3, 350.3, 361.3, 372.7];
statLabels.forEach((l,i) => {
  txt(l, 252, lowerY[i]); txt(statMean[i], 363, lowerY[i]);
  txt(statMin[i], 451, lowerY[i]); txt(statMax[i], 539.5, lowerY[i]);
  txt(statUnits[i], 627, lowerY[i]);
});
txt(inputLabel, 252, 391); txt(inputValue, 363, 391);

const chart = echarts.init(document.getElementById('c'), null, {renderer:'canvas'});
chart.setOption({
  animation:false,
  backgroundColor:'#fff',
  grid:grids,
  xAxis:xAxes,
  yAxis:yAxes,
  series:[
    scatter(0, xxData, 2.5),
    scatter(1, yyPoints, 1.7),
    ellipse(1, yyEllipse),
    scatter(2, phPoints, 1.7),
    ellipse(2, phEllipse),
    scatter(3, xyData, 2.2)
  ],
  graphic:{elements:G}
});
</script>
</body></html>
